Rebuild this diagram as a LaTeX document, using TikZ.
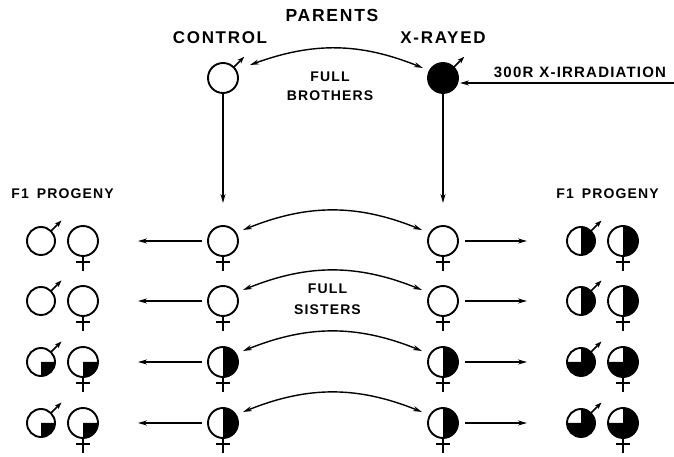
\documentclass[tikz,border=0pt]{standalone}
\usepackage{fontspec}
\setmainfont{Liberation Sans}
\newfontfamily\lettering[LetterSpace=8,BoldFont={Liberation Sans Bold}]{Liberation Sans}
\newfontfamily\wideletter[LetterSpace=10,BoldFont={Liberation Sans Bold}]{Liberation Sans}
\usetikzlibrary{arrows.meta}

% partial fills of a sex symbol circle: node name, radius
\newcommand\halfright[2]{\fill (#1.south) arc[start angle=-90,end angle=90,radius=#2] -- cycle;}
\newcommand\quarterlr[2]{\fill (#1.center) -- (#1.east) arc[start angle=0,end angle=-90,radius=#2] -- cycle;}
\newcommand\threequarter[2]{\fill (#1.center) -- (#1.north) arc[start angle=90,end angle=-180,radius=#2] -- cycle;}
% male arrow and female cross attached to a circle node
\newcommand\malemark[1]{\draw[malearrow] (#1.45) -- ++(45:15);}
\newcommand\femalemark[1]{\draw[femalecross] (#1.south) -- ++(0,-15) ([shift={(-7,-6)}]#1.south) -- ++(14,0);}

\begin{document}
\begin{tikzpicture}[x=1pt,y=1pt,
  ring/.style={circle,draw,line width=1.9pt,inner sep=0pt,outer sep=0pt,minimum size=30pt},
  smallring/.style={ring,minimum size=28pt},
  malearrow/.style={line width=1.6pt,-{Stealth[length=7pt,width=5pt]}},
  femalecross/.style={line width=1.9pt},
  flow/.style={line width=1.4pt,-{Stealth[length=9pt,width=5pt]}},
  kin/.style={line width=1.4pt,{Stealth[length=9pt,width=5pt]}-{Stealth[length=9pt,width=5pt]}},
  caption/.style={font=\lettering\bfseries\fontsize{14}{14}\selectfont,inner sep=0pt},
  heading/.style={font=\wideletter\bfseries\fontsize{17}{17}\selectfont,inner sep=0pt},
]
\fill[white] (0,0) rectangle (674,457);
\useasboundingbox (0,0) rectangle (674,457);

% headings
\node[heading,font=\wideletter\bfseries\fontsize{17.5}{17.5}\selectfont] (parents) at (332,442) {PARENTS};
\node[heading] (ctl) at (220,419.5) {CONTROL};
\node[heading] (xr) at (443,419.5) {X-RAYED};
\node[caption] (full1) at (330,380) {FULL};
\node[caption] (bro) at (330,361) {BROTHERS};
\node[caption,font=\lettering\bfseries\fontsize{15}{15}\selectfont] (dose) at (580,384.5) {300R\hspace{6pt}X-IRRADIATION};
\node[caption] (progL) at (62.5,263) {F1\hspace{8pt}PROGENY};
\node[caption] (progR) at (607.5,263) {F1\hspace{8pt}PROGENY};
\node[caption] (full2) at (327.5,168) {FULL};
\node[caption] (sis) at (327.5,147.5) {SISTERS};

% parents
\node[ring] (pc) at (223,379) {};
\node[ring,fill=black] (px) at (443,379) {};
\malemark{pc}
\malemark{px}

% daughters and progeny
\foreach \i/\yy in {1/216,2/156,3/95,4/34} {
  \node[ring] (mL\i) at (223,\yy) {};
  \node[ring] (mR\i) at (443,\yy) {};
  \node[smallring] (lm\i) at (41,\yy) {};
  \node[ring] (lf\i) at (83,\yy) {};
  \node[smallring] (rm\i) at (581,\yy) {};
  \node[ring] (rf\i) at (623,\yy) {};
}
\foreach \i in {3,4} {
  \quarterlr{lm\i}{14}
  \quarterlr{lf\i}{15}
  \halfright{mL\i}{15}
  \halfright{mR\i}{15}
  \threequarter{rm\i}{14}
  \threequarter{rf\i}{15}
}
\foreach \i in {1,2} {
  \halfright{rm\i}{14}
  \halfright{rf\i}{15}
}
\foreach \i in {1,...,4} {
  \malemark{lm\i}
  \malemark{rm\i}
  \femalemark{lf\i}
  \femalemark{mL\i}
  \femalemark{mR\i}
  \femalemark{rf\i}
}

% connectors
\draw[kin] ([shift={(27,13)}]pc.center) to[bend left=21] ([shift={(-20,10)}]px.center);
\draw[flow] (pc.south) -- ([yshift=23pt]mL1.north);
\draw[flow] (px.south) -- ([yshift=23pt]mR1.north);
\coordinate (beam) at (674,374);
\draw[flow] (beam) -- ([shift={(17,-5)}]px.center);
\foreach \i in {1,...,4} {
  \draw[kin] ([shift={(20,11)}]mL\i.center) to[bend left=22] ([shift={(-21,11)}]mR\i.center);
  \draw[flow] ([xshift=-6pt]mL\i.west) -- ([xshift=40pt]lf\i.east);
  \draw[flow] ([xshift=7pt]mR\i.east) -- ([xshift=-40pt]rm\i.west);
}
\end{tikzpicture}
\end{document}
